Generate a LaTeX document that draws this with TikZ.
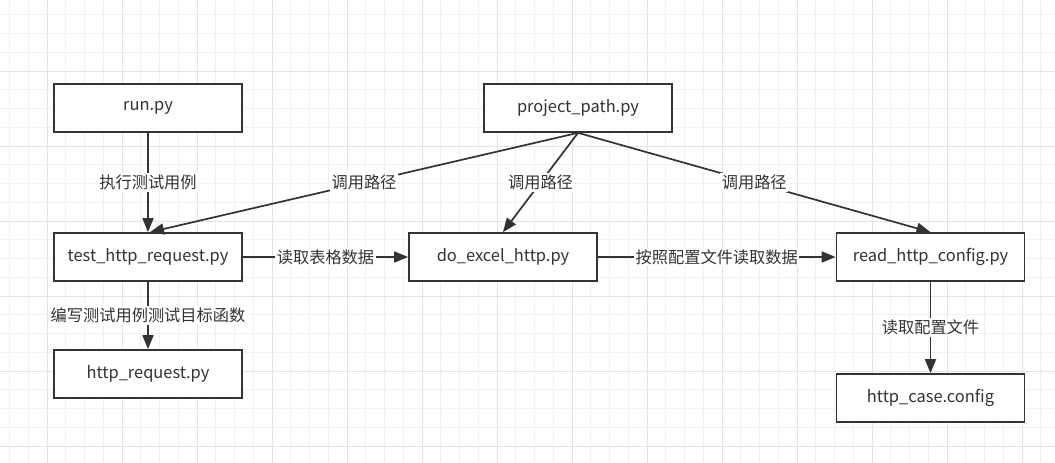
\documentclass[tikz,border=0pt]{standalone}
\usepackage{fontspec}
\setmainfont{Noto Sans CJK SC}
\usetikzlibrary{arrows.meta}
\definecolor{ink}{HTML}{333333}
\definecolor{gridminor}{HTML}{F1F1F1}
\definecolor{gridmajor}{HTML}{E3E3E3}
\begin{document}
\begin{tikzpicture}[x=1bp,y=-1bp,
  box/.style={draw=ink, line width=1.7bp, fill=white, minimum width=188bp, minimum height=48bp, inner sep=0pt, font=\fontsize{16.5}{19}\selectfont, text=ink},
  lbl/.style={fill=white, inner sep=1.5bp, font=\fontsize{16.3}{19}\selectfont, text=ink},
  conn/.style={draw=ink, line width=1.7bp, -{Triangle[length=14bp,width=11bp]}}]
\useasboundingbox[fill=white] (0,0) rectangle (1055,463);
% grid
\foreach \k in {-2,...,53} \draw[gridminor, line width=0.8bp] ({47+18.75*\k},0) -- ({47+18.75*\k},463);
\foreach \k in {-3,...,20} \draw[gridminor, line width=0.8bp] (0,{71+18.75*\k}) -- (1055,{71+18.75*\k});
\foreach \k in {0,...,13} \draw[gridmajor, line width=0.8bp] ({47+75*\k},0) -- ({47+75*\k},463);
\foreach \k in {0,...,5} \draw[gridmajor, line width=0.8bp] (0,{71+75*\k}) -- (1055,{71+75*\k});
% nodes
\node[box] (run) at (148,108) {run.py};
\node[box] (proj) at (578,108) {project\_path.py};
\node[box] (test) at (148,257) {test\_http\_request.py};
\node[box] (excel) at (503,257) {do\_excel\_http.py};
\node[box] (read) at (930.5,257) {read\_http\_config.py};
\node[box] (req) at (148,374) {http\_request.py};
\node[box] (case) at (930.5,398) {http\_case.config};
% connectors
\draw[conn] (run.south) -- node[lbl] {执行测试用例} (test.north);
\draw[conn] (proj.south) -- node[lbl] {调用路径} ([xshift=2bp]test.north);
\draw[conn] (proj.south) -- node[lbl] {调用路径} (excel.north);
\draw[conn] (proj.south) -- node[lbl] {调用路径} (read.north);
\draw[conn] (test.east) -- node[lbl] {读取表格数据} (excel.west);
\draw[conn] (excel.east) -- node[lbl] {按照配置文件读取数据} (read.west);
\draw[conn] (test.south) -- node[lbl] {编写测试用例测试目标函数} (req.north);
\draw[conn] (read.south) -- node[lbl] {读取配置文件} (case.north);
\end{tikzpicture}
\end{document}
